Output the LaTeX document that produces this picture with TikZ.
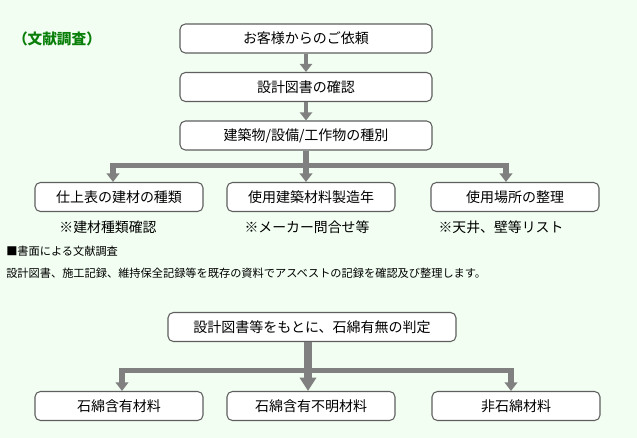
\documentclass[tikz,border=0pt]{standalone}
\usepackage{fontspec}
\setmainfont{Noto Sans CJK JP}
\usetikzlibrary{arrows.meta,positioning,calc}

\definecolor{bgpale}{RGB}{242,254,242}
\definecolor{bglight}{RGB}{252,255,252}
\definecolor{boxline}{RGB}{95,95,95}
\definecolor{arrowgray}{RGB}{128,128,128}
\definecolor{titlegreen}{RGB}{10,128,10}

\tikzset{
  flowbox/.style={draw=boxline, line width=0.8pt, fill=white, rounded corners=4pt,
    minimum height=21.75pt, inner sep=0pt, font=\fontsize{10.5}{12}\selectfont},
  widebox/.style={flowbox, minimum width=189pt},
  rowbox/.style={flowbox, minimum width=126pt},
  judgebox/.style={flowbox, minimum width=216pt},
  note/.style={inner sep=0pt, font=\fontsize{10.4}{12}\selectfont},
  bodytext/.style={inner sep=0pt, anchor=west, font=\fontsize{8.4}{10}\selectfont},
  flowarrow/.style={draw=arrowgray, line width=3pt, -{Triangle[width=9pt,length=6pt]}},
  busline/.style={draw=arrowgray, line width=3.8pt, line join=miter},
  busarrow/.style={busline, -{Triangle[width=9.5pt,length=6.5pt]}},
  trunkarrow/.style={draw=arrowgray, line width=5.6pt, -{Triangle[width=12pt,length=10pt]}}
}

\begin{document}
\begin{tikzpicture}[x=0.75pt, y=-0.75pt]

\shade[top color=bgpale, middle color=bglight, bottom color=bgpale] (0,0) rectangle (637,437);
\useasboundingbox (0,0) rectangle (637,437);

\node[inner sep=0pt, text=titlegreen, font=\bfseries\fontsize{11}{13}\selectfont] (title) at (57,39) {（文献調査）};

% upper flow
\node[widebox] (req)  at (306,38.5)  {お客様からのご依頼};
\node[widebox] (chk)  at (306,87)    {設計図書の確認};
\node[widebox] (kind) at (306,135.5) {建築物/設備/工作物の種別};

\draw[flowarrow] (req.south) -- (chk.north);
\draw[flowarrow] (chk.south) -- (kind.north);

\node[rowbox] (fin)   at (119,197) {仕上表の建材の種類};
\node[rowbox] (year)  at (311,197) {使用建築材料製造年};
\node[rowbox] (place) at (515,197) {使用場所の整理};

\path (kind.south) ++(0,15) coordinate (hubA);
\draw[busline] (kind.south) -- (hubA);
\draw[busarrow] (hubA) -| ($(fin.north)+(-6,0)$);
\draw[busarrow] (hubA) -| ($(place.north)+(-9,0)$);
\draw[busarrow] (hubA) -- (year.north -| hubA);

\node[note] (finnote)   at (108,227) {※建材種類確認};
\node[note] (yearnote)  at (307,227) {※メーカー問合せ等};
\node[note] (placenote) at (501,227) {※天井、壁等リスト};

\node[bodytext] (head) at (6,251) {■書面による文献調査};
\node[bodytext] (body) at (6,273) {設計図書、施工記録、維持保全記録等を既存の資料でアスベストの記録を確認及び整理します。};

% judgement
\node[judgebox] (judge) at (312,327) {設計図書等をもとに、石綿有無の判定};

\node[rowbox] (mat) at (119,406) {石綿含有材料};
\node[rowbox] (unk) at (311,406) {石綿含有不明材料};
\node[rowbox] (non) at (516,406) {非石綿材料};

\path ($(judge.south)+(-4,0)$) ++(0,28) coordinate (hubB);
\draw[busarrow] (hubB) -| ($(mat.north)+(3,0)$);
\draw[busarrow] (hubB) -| ($(non.north)+(-5,0)$);
\draw[trunkarrow] ($(judge.south)+(-4,0)$) -- (unk.north -| hubB);

\end{tikzpicture}
\end{document}
